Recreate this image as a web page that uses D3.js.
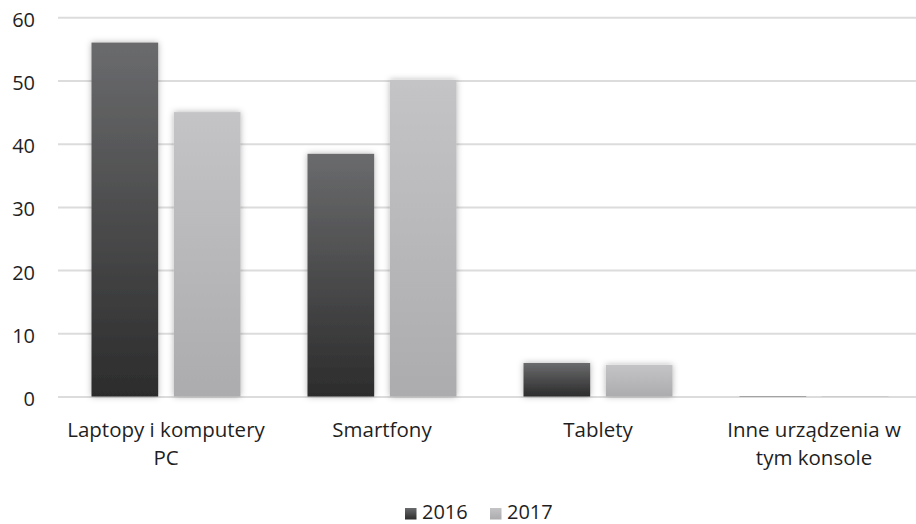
<!DOCTYPE html>
<html>
<head>
<meta charset="utf-8">
<script src="https://cdn.jsdelivr.net/npm/d3@7"></script>
<style>
html,body{margin:0;padding:0;background:#fff;}
svg{display:block;}
text{font-family:"Open Sans","DejaVu Sans",sans-serif;fill:#1f1f1f;}
</style>
</head>
<body>
<svg id="chart" width="916" height="524"></svg>
<script>
const categories = [["Laptopy i komputery","PC"],["Smartfony"],["Tablety"],["Inne urządzenia w","tym konsole"]];
const seriesNames = ["2016","2017"];
const values2016 = [56, 38.4, 5.3, 0.05];
const values2017 = [45, 50.1, 5.0, 0.05];
const yTicks = [0,10,20,30,40,50,60];

const svg = d3.select("#chart");

const defs = svg.append("defs");
const g1 = defs.append("linearGradient").attr("id","grad2016").attr("x1",0).attr("y1",0).attr("x2",0).attr("y2",1);
g1.append("stop").attr("offset","0%").attr("stop-color","#6a6b6d");
g1.append("stop").attr("offset","100%").attr("stop-color","#2c2c2c");
const g2 = defs.append("linearGradient").attr("id","grad2017").attr("x1",0).attr("y1",0).attr("x2",0).attr("y2",1);
g2.append("stop").attr("offset","0%").attr("stop-color","#c4c4c6");
g2.append("stop").attr("offset","100%").attr("stop-color","#acacae");
const f = defs.append("filter").attr("id","shadow").attr("x","-30%").attr("y","-30%").attr("width","160%").attr("height","160%");
f.append("feDropShadow").attr("dx",0).attr("dy",0).attr("stdDeviation",3).attr("flood-color","#000").attr("flood-opacity",0.3);

const x0 = d3.scaleBand().domain(d3.range(categories.length)).range([58, 922]).paddingInner(0).paddingOuter(0);
const x1 = d3.scaleBand().domain(seriesNames).range([33.5, x0.bandwidth()-33.5]).paddingInner(0.19);
const y = d3.scaleLinear().domain([0,60]).range([396.5, 17.3]);

// gridlines + y tick labels
const yAxis = d3.axisLeft(y).tickValues(yTicks).tickSize(-(916-58)).tickFormat(d3.format("d")).tickPadding(23);
const ga = svg.append("g").attr("transform","translate(58,0)").call(yAxis);
ga.select(".domain").remove();
ga.selectAll(".tick line").attr("stroke","#dcdcdc").attr("stroke-width",2);
ga.selectAll(".tick text").attr("font-size","20px").attr("fill","#1f1f1f").attr("dy","0.45em");

// bars
const fills = {"2016":"url(#grad2016)","2017":"url(#grad2017)"};
const data = categories.map((c,i)=>({i, vals:[{s:"2016",v:values2016[i]},{s:"2017",v:values2017[i]}]}));
const groups = svg.append("g").selectAll("g").data(data).join("g")
  .attr("transform",d=>`translate(${x0(d.i)},0)`);
groups.selectAll("rect").data(d=>d.vals).join("rect")
  .attr("x",d=>x1(d.s))
  .attr("width",x1.bandwidth())
  .attr("y",d=>y(d.v))
  .attr("height",d=>y(0)-y(d.v))
  .attr("fill",d=>fills[d.s])
  .attr("filter","url(#shadow)");

// category labels
const xl = svg.append("g");
categories.forEach((lines,i)=>{
  const cx = x0(i)+x0.bandwidth()/2;
  const t = xl.append("text").attr("text-anchor","middle").attr("font-size","20.5px")
    .attr("x", cx).attr("y",437);
  lines.forEach((ln,k)=>{
    t.append("tspan").attr("x",cx).attr("dy",k===0?0:28).text(ln);
  });
});

// legend
const legend = svg.append("g");
const legX = [405, 490];
seriesNames.forEach((s,k)=>{
  legend.append("rect").attr("x",legX[k]).attr("y",508).attr("width",11.5).attr("height",11.5).attr("fill",fills[s]);
  legend.append("text").attr("x",legX[k]+17).attr("y",519).attr("font-size","20px").text(s);
});
</script>
</body>
</html>
